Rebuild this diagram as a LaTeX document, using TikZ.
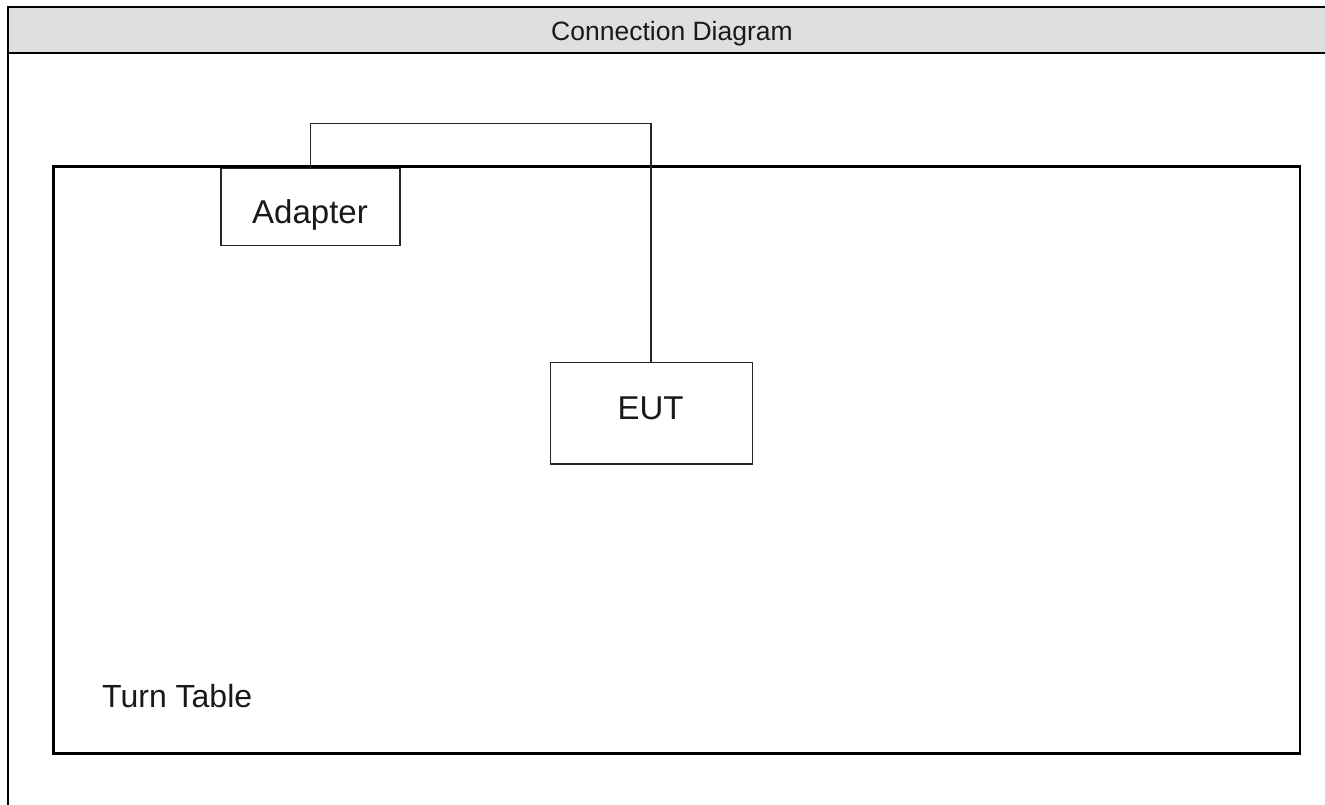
\documentclass[tikz,border=0pt]{standalone}
\usepackage{fontspec}
\setmainfont{Liberation Sans}
\definecolor{hdrgray}{RGB}{223,223,223}
\begin{document}
\begin{tikzpicture}[x=1pt,y=-1pt,
  framestyle/.style={line width=2pt,draw=black},
  tablebox/.style={draw=black,line width=2.6pt,inner sep=0pt,fill=none},
  devbox/.style={draw=black!85,line width=1.1pt,fill=white,inner sep=0pt},
  cable/.style={draw=black!85,line width=1.6pt},
  lbl/.style={inner sep=0pt,text=black!90},
  bigfont/.style={font=\fontsize{33}{40}\selectfont},
]
\useasboundingbox (0,0) rectangle (1325,805);
\clip (0,0) rectangle (1325,805);
% header band
\node[fill=hdrgray,inner sep=0pt,minimum width=1340pt,minimum height=46pt,anchor=north west] (hdr) at (7.5,7) {};
\draw[framestyle] (hdr.north east) -- (hdr.north west) -- ++(0,820);
\draw[framestyle] (hdr.south west) -- (hdr.south east);
\node[lbl,font=\fontsize{26.5}{32}\selectfont,anchor=base] (title) at (672,40.7) {Connection Diagram};
% turn table
\node[tablebox,minimum width=1246.7pt,minimum height=586.8pt] (tt) at (676.65,459.9) {};
\node[lbl,font=\fontsize{32}{38}\selectfont,anchor=base west] (ttlabel) at (102,707.3) {Turn Table};
% adapter
\node[devbox,minimum width=179pt,minimum height=76.7pt] (adapter) at (310.5,206.7) {};
\node[lbl,bigfont,anchor=base] (adapterlabel) at (310,224) {Adapter};
% EUT
\node[devbox,minimum width=202.3pt,minimum height=101.3pt] (eut) at (651.2,413.3) {};
\node[lbl,bigfont,anchor=base] (eutlabel) at (650.5,419) {EUT};
% cable
\draw[cable] (adapter.north) -- ++(0,-44.3) coordinate (bend) -| (eut.north);
\end{tikzpicture}
\end{document}
